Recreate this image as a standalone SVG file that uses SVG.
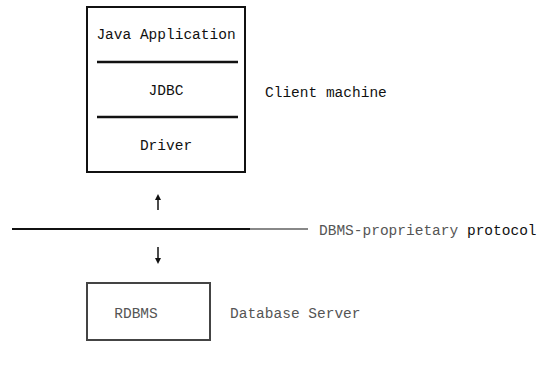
<svg xmlns="http://www.w3.org/2000/svg" width="543" height="379" viewBox="0 0 543 379">
  <style>
    .t { font-family: "Liberation Mono", "DejaVu Sans Mono", monospace; font-size: 14.5px; fill: #111; }
    .g { fill: #555; }
    .box { fill: none; stroke: #111; stroke-width: 2; }
    .div { stroke: #111; stroke-width: 2.5; }
  </style>
  <defs>
    <marker id="ah" viewBox="0 0 8 8" refX="4" refY="4" markerWidth="6" markerHeight="6" orient="auto-start-reverse" markerUnits="userSpaceOnUse">
      <path d="M0,0 L8,4 L0,8 z" fill="#111"/>
    </marker>
  </defs>
  <rect width="543" height="379" fill="#fff"/>
  <g id="client">
    <rect class="box" x="87" y="7" width="158" height="165"/>
    <line class="div" x1="97" y1="62" x2="238" y2="62"/>
    <line class="div" x1="97" y1="117" x2="238" y2="117"/>
    <text class="t" x="166" y="39" text-anchor="middle">Java Application</text>
    <text class="t" x="166" y="95" text-anchor="middle">JDBC</text>
    <text class="t" x="166" y="150" text-anchor="middle">Driver</text>
    <text class="t" x="265" y="97">Client machine</text>
  </g>
  <g id="protocol">
    <line x1="12" y1="229" x2="250" y2="229" stroke="#111" stroke-width="2"/>
    <line x1="250" y1="229" x2="308" y2="229" stroke="#888" stroke-width="2"/>
    <text class="t" x="319" y="235"><tspan class="g">DBMS-proprietary</tspan> protocol</text>
  </g>
  <g id="server">
    <rect x="87" y="283" width="123" height="57" fill="none" stroke="#444" stroke-width="2"/>
    <text class="t g" x="136" y="318" text-anchor="middle">RDBMS</text>
    <text class="t g" x="230" y="318">Database Server</text>
  </g>
  <g id="connectors">
    <line x1="158" y1="210" x2="158" y2="197" stroke="#111" stroke-width="1.5" marker-end="url(#ah)"/>
    <line x1="158" y1="247" x2="158" y2="261" stroke="#111" stroke-width="1.5" marker-end="url(#ah)"/>
  </g>
</svg>
